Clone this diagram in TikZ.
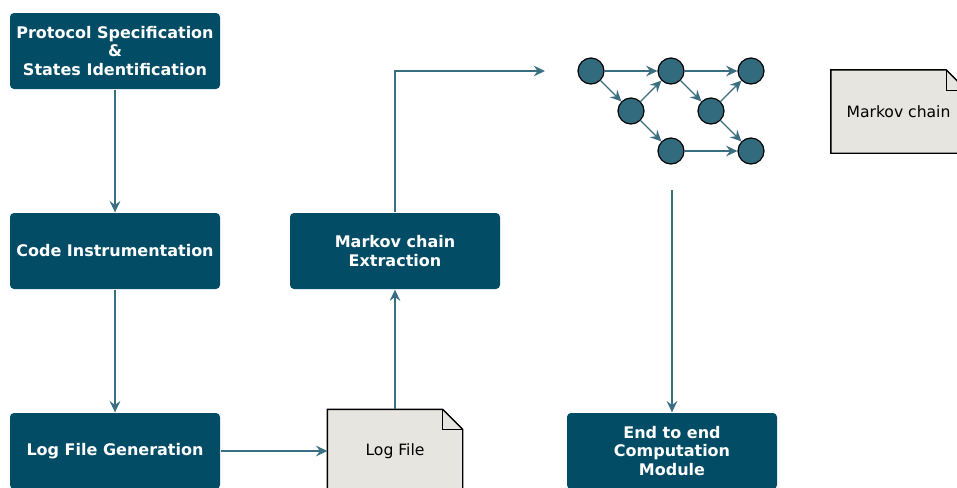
\documentclass[tikz,border=0pt]{standalone}
\usepackage{fontspec}
\setmainfont{DejaVu Sans}
\usetikzlibrary{arrows.meta,positioning,backgrounds}

\definecolor{boxteal}{HTML}{034C65}
\definecolor{flowteal}{HTML}{3A6F82}
\definecolor{stateteal}{HTML}{336B7E}
\definecolor{notegrey}{HTML}{E6E5E0}

\begin{document}
\begin{tikzpicture}[
  x=0.75pt, y=-0.75pt,
  line width=1pt,
  % Pipeline stages: filled, slightly rounded, white bold text.
  stagebox/.style={rectangle,rounded corners=3pt,fill=boxteal,text=white,
                   font=\fontsize{12}{13.9}\selectfont\bfseries,align=center,
                   minimum width=157.5pt,minimum height=57pt,inner sep=0pt},
  % Paper notes: the folded outline is drawn behind, on the background layer.
  note/.style={minimum width=100.5pt,minimum height=61.5pt,inner sep=0pt,
               font=\fontsize{11.7}{13.9}\selectfont},
  notefill/.style={draw=black,fill=notegrey,line width=1pt},
  flow/.style={draw=flowteal,line width=1pt,
               -{Stealth[length=8.5pt,width=8pt,inset=3pt]}},
  state/.style={circle,draw=black,fill=stateteal,minimum size=19.5pt,
                inner sep=0pt,line width=0.9pt},
]

%--- frame ---------------------------------------------------------------------
\useasboundingbox (0,0) rectangle (957,487);
\clip (0,0) rectangle (957,487);

%--- geometry ------------------------------------------------------------------
\def\xleft{115}    % left column of stages
\def\xmid{395}     % extraction column
\def\xright{672}   % end to end column
\def\ytop{51}
\def\ycen{251}
\def\ybot{451}

%--- stages --------------------------------------------------------------------
\node[stagebox] (spec)    at (\xleft,\ytop) {Protocol Specification\\ \&\\ States Identification};
\node[stagebox] (instr)   at (\xleft,\ycen) {Code Instrumentation};
\node[stagebox] (loggen)  at (\xleft,\ybot) {Log File Generation};
\node[stagebox] (extract) at (\xmid,\ycen)  {Markov chain\\ Extraction};
\node[stagebox] (e2e)     at (\xright,\ybot) {End to end\\ Computation\\ Module};

%--- notes ---------------------------------------------------------------------
\node[note] (logfile) at (\xmid,\ybot)   {Log File};
\node[note] (mcnote)  at (898.5,111.5)   {Markov chain};

\begin{scope}[on background layer]
  \foreach \n in {logfile,mcnote} {
    \draw[notefill] (\n.south west) -- (\n.north west)
      -- ([xshift=-15pt]\n.north east) -- ([yshift=-15pt]\n.north east)
      -- (\n.south east) -- cycle;
    \draw ([xshift=-15pt]\n.north east) |- ([yshift=-15pt]\n.north east);
  }
\end{scope}

%--- the chain itself ----------------------------------------------------------
\foreach \name/\x/\y in {s1/591/71, s2/631/111, s3/671/71, s4/671/151,
                         s5/711/111, s6/751/71, s7/751/151}
  \node[state] (\name) at (\x,\y) {};

\foreach \a/\b in {s1/s3, s1/s2, s2/s3, s2/s4, s3/s6, s3/s5, s5/s6, s5/s7, s4/s7}
  \draw[flow] (\a) -- (\b);

%--- flow between stages -------------------------------------------------------
\coordinate (mcin)  at (545,71);
\coordinate (mcout) at (\xright,190);

\draw[flow] (spec) -- (instr);
\draw[flow] (instr) -- (loggen);
\draw[flow] (loggen) -- (logfile);
\draw[flow] (logfile) -- (extract);
\draw[flow] (extract) |- (mcin);
\draw[flow] (mcout) -- (e2e);

\end{tikzpicture}
\end{document}
